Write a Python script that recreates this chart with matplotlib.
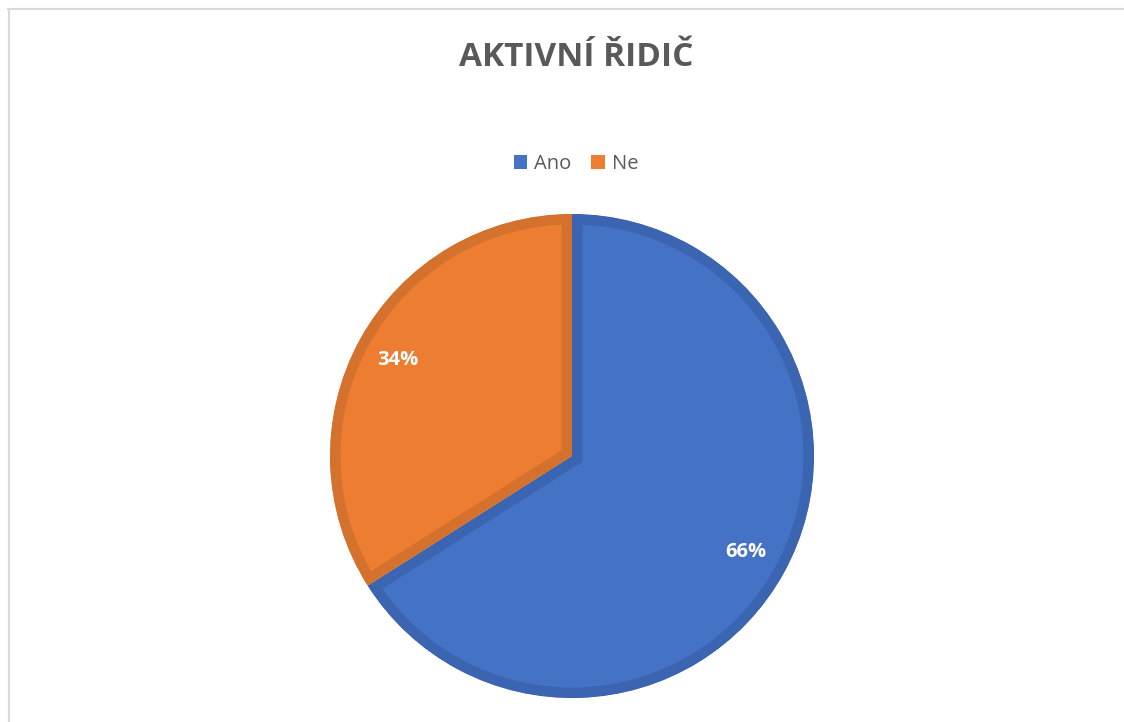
import matplotlib
matplotlib.use("Agg")
import matplotlib.pyplot as plt
from matplotlib.lines import Line2D
from matplotlib.patches import Patch

title = "AKTIVNÍ ŘIDIČ"
categories = ["Ano", "Ne"]
values = [66, 34]
fill_colors = ["#4472C4", "#ED7D31"]
edge_colors = ["#3B64B1", "#D4712D"]

W, H = 1124, 722
fig = plt.figure(figsize=(W / 100, H / 100), dpi=100)
fig.patch.set_facecolor("white")

cx, cy, R = 572, 456, 242
ax = fig.add_axes([(cx - R) / W, 1 - (cy + R) / H, 2 * R / W, 2 * R / H])
wedges, texts, autotexts = ax.pie(
    values, colors=fill_colors, startangle=90, counterclock=False,
    autopct=lambda p: f"{p:.0f}%", pctdistance=0.82, radius=1,
    textprops=dict(color="white", fontsize=14.5, fontweight="bold", family="Open Sans"),
)
ax.set_xlim(-1, 1)
ax.set_ylim(-1, 1)
ax.set_aspect("equal")
ax.axis("off")
for w, ec in zip(wedges, edge_colors):
    w.set_edgecolor(ec)
    w.set_linewidth(15)
    w.set_clip_on(True)
    w.set_clip_path(w.get_path(), w.get_transform())

fig.text(576 / W, 1 - 57 / H, title, ha="center", va="center", fontsize=24,
         fontweight="bold", color="#595959", family="Open Sans")

handles = [Patch(facecolor=c, edgecolor="none") for c in fill_colors]
leg = fig.legend(handles, categories, loc="center", bbox_to_anchor=(576 / W, 1 - 164 / H),
                 ncol=2, frameon=False, handlelength=0.65, handleheight=0.65,
                 handletextpad=0.35, columnspacing=1.0,
                 prop=dict(family="Open Sans", size=14.5))
for t in leg.get_texts():
    t.set_color("#595959")

fig.add_artist(Line2D([8 / W, 1], [1 - 9 / H, 1 - 9 / H], color="#d9d9d9", lw=1.5,
                      transform=fig.transFigure))
fig.add_artist(Line2D([8.5 / W, 8.5 / W], [0, 1 - 9 / H], color="#d9d9d9", lw=1.5,
                      transform=fig.transFigure))

fig.savefig("out.png", dpi=100, facecolor="white")
